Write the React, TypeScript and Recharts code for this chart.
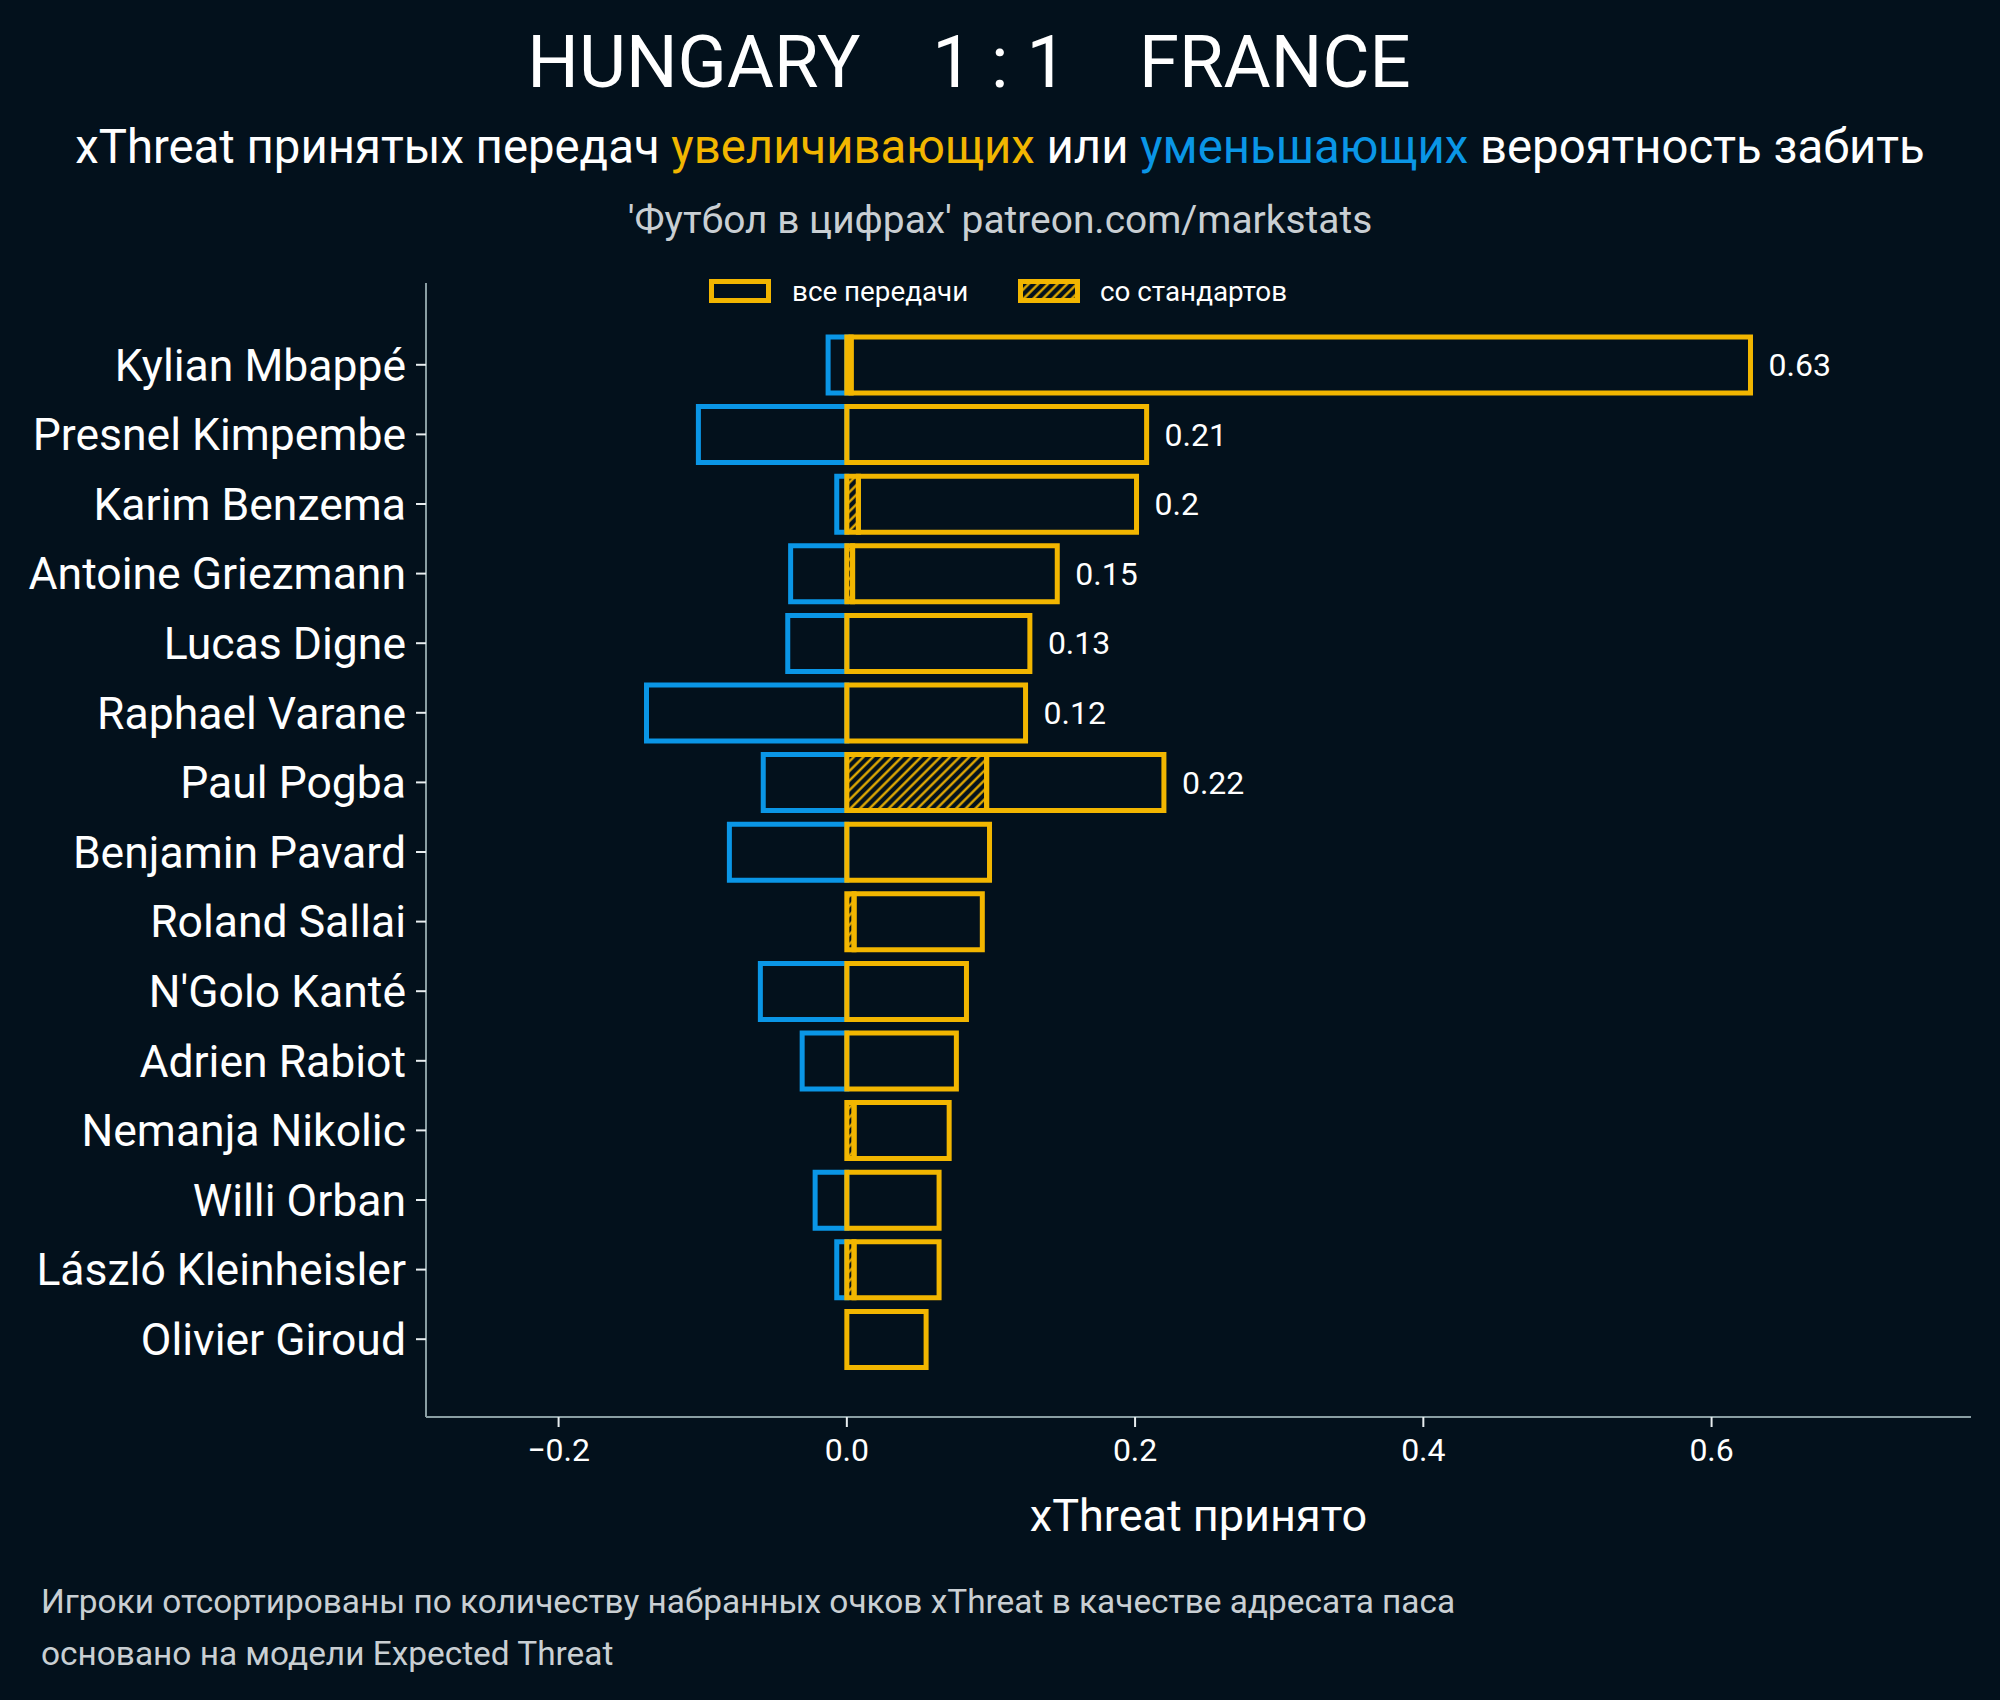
import React from 'react';
import { BarChart, Bar, XAxis, YAxis, LabelList } from 'recharts';

const players = [
  'Kylian Mbappé',
  'Presnel Kimpembe',
  'Karim Benzema',
  'Antoine Griezmann',
  'Lucas Digne',
  'Raphael Varane',
  'Paul Pogba',
  'Benjamin Pavard',
  'Roland Sallai',
  "N'Golo Kanté",
  'Adrien Rabiot',
  'Nemanja Nikolic',
  'Willi Orban',
  'László Kleinheisler',
  'Olivier Giroud',
];
const xtPositive = [0.627, 0.208, 0.201, 0.146, 0.127, 0.124, 0.22, 0.099, 0.094, 0.083, 0.076, 0.071, 0.064, 0.064, 0.055];
const xtSetPiece = [0.003, 0, 0.008, 0.004, 0, 0, 0.097, 0, 0.005, 0, 0, 0.005, 0, 0.005, 0];
const xtNegative = [-0.013, -0.103, -0.007, -0.039, -0.041, -0.139, -0.058, -0.0815, 0, -0.06, -0.031, 0, -0.022, -0.007, 0];
const xTicks = [-0.2, 0, 0.2, 0.4, 0.6];
const labelThreshold = 0.1;

const BG = '#03111c';
const YELLOW = '#f2b600';
const BLUE = '#0a96e6';
const SPINE = '#8a9ea3';
const GREY = '#c9cfd3';
const FONT = 'Roboto, "Noto Sans", sans-serif';

const data = players.map((name, i) => ({
  name,
  neg: xtNegative[i],
  sp: xtSetPiece[i],
  rest: xtPositive[i] - xtSetPiece[i],
  total: xtPositive[i],
}));

const fmtTick = (v: number) => {
  const s = v.toFixed(1);
  return v < 0 ? '\u2212' + s.slice(1) : s;
};

const ValueLabel = (props: any) => {
  const { x, y, width, height, value } = props;
  if (value == null || value < labelThreshold) return null;
  const txt = String(Number(Number(value).toFixed(2)));
  return (
    <text
      x={Number(x) + Number(width) + 18}
      y={Number(y) + Number(height) / 2}
      fill="#ffffff"
      fontSize={32}
      fontFamily={FONT}
      dominantBaseline="central"
    >
      {txt}
    </text>
  );
};

export default function App() {
  return (
    <div style={{ position: 'absolute', left: 0, top: 0, width: 2000, height: 1700, background: BG }}>
      <svg width={0} height={0} style={{ position: 'absolute' }}>
        <defs>
          <pattern id="hatch" patternUnits="userSpaceOnUse" width={6.8} height={6.8} patternTransform="rotate(45)">
            <rect x={0} y={0} width={6.8} height={6.8} fill={BG} />
            <line x1={3.4} y1={0} x2={3.4} y2={6.8} stroke={YELLOW} strokeWidth={2.2} />
          </pattern>
        </defs>
      </svg>
      <div style={{ position: 'absolute', left: 0, top: 0 }}>
        <BarChart
          width={2000}
          height={1700}
          data={data}
          layout="vertical"
          stackOffset="sign"
          barSize={56}
          margin={{ top: 283, right: 29, bottom: 223, left: 0 }}
        >
          <XAxis
            type="number"
            domain={[-0.292, 0.78]}
            ticks={xTicks}
            allowDataOverflow
            tickFormatter={fmtTick}
            axisLine={{ stroke: SPINE, strokeWidth: 2 }}
            tickLine={{ stroke: '#e8eef0', strokeWidth: 2 }}
            tickSize={10}
            tickMargin={11}
            height={60}
            tick={{ fill: '#ffffff', fontSize: 32, fontFamily: FONT }}
          />
          <YAxis
            type="category"
            dataKey="name"
            width={426}
            padding={{ top: 47, bottom: 43 }}
            axisLine={{ stroke: SPINE, strokeWidth: 2 }}
            tickLine={{ stroke: '#e8eef0', strokeWidth: 2 }}
            tickSize={10}
            tickMargin={10}
            interval={0}
            tick={{ fill: '#ffffff', fontSize: 44.5, fontFamily: FONT }}
          />
          <Bar dataKey="neg" stackId="a" fill="none" stroke={BLUE} strokeWidth={5} isAnimationActive={false} />
          <Bar dataKey="sp" stackId="a" fill="url(#hatch)" stroke={YELLOW} strokeWidth={5} isAnimationActive={false} />
          <Bar dataKey="rest" stackId="a" fill="none" stroke={YELLOW} strokeWidth={5} isAnimationActive={false}>
            <LabelList dataKey="total" content={ValueLabel} />
          </Bar>
        </BarChart>
      </div>
      <svg width={2000} height={1700} style={{ position: 'absolute', left: 0, top: 0, pointerEvents: 'none' }}>
        <text x={969} y={87} textAnchor="middle" fill="#ffffff" fontSize={72.4} fontFamily={FONT} style={{ whiteSpace: 'pre' }}>
          {'HUNGARY    1 : 1    FRANCE'}
        </text>
        <text x={1000} y={163} textAnchor="middle" fill="#ffffff" fontSize={47.3} fontFamily={FONT} style={{ whiteSpace: 'pre' }}>
          <tspan>xThreat принятых передач </tspan>
          <tspan fill={YELLOW}>увеличивающих</tspan>
          <tspan> или </tspan>
          <tspan fill={BLUE}>уменьшающих</tspan>
          <tspan> вероятность забить</tspan>
        </text>
        <text x={1000} y={233} textAnchor="middle" fill={GREY} fontSize={38.9} fontFamily={FONT}>
          'Футбол в цифрах' patreon.com/markstats
        </text>
        <rect x={711.5} y={281.5} width={57} height={19} fill="none" stroke={YELLOW} strokeWidth={5} />
        <text x={792} y={301} fill="#ffffff" fontSize={27.8} fontFamily={FONT}>все передачи</text>
        <rect x={1020.5} y={281.5} width={57} height={19} fill="url(#hatch)" stroke={YELLOW} strokeWidth={5} />
        <text x={1100} y={301} fill="#ffffff" fontSize={27.8} fontFamily={FONT}>со стандартов</text>
        <text x={1198.5} y={1531} textAnchor="middle" fill="#ffffff" fontSize={45} fontFamily={FONT}>xThreat принято</text>
        <text x={41} y={1613} fill={GREY} fontSize={33.4} fontFamily={FONT}>
          Игроки отсортированы по количеству набранных очков xThreat в качестве адресата паса
        </text>
        <text x={41} y={1665} fill={GREY} fontSize={33.4} fontFamily={FONT}>
          основано на модели Expected Threat
        </text>
      </svg>
    </div>
  );
}
